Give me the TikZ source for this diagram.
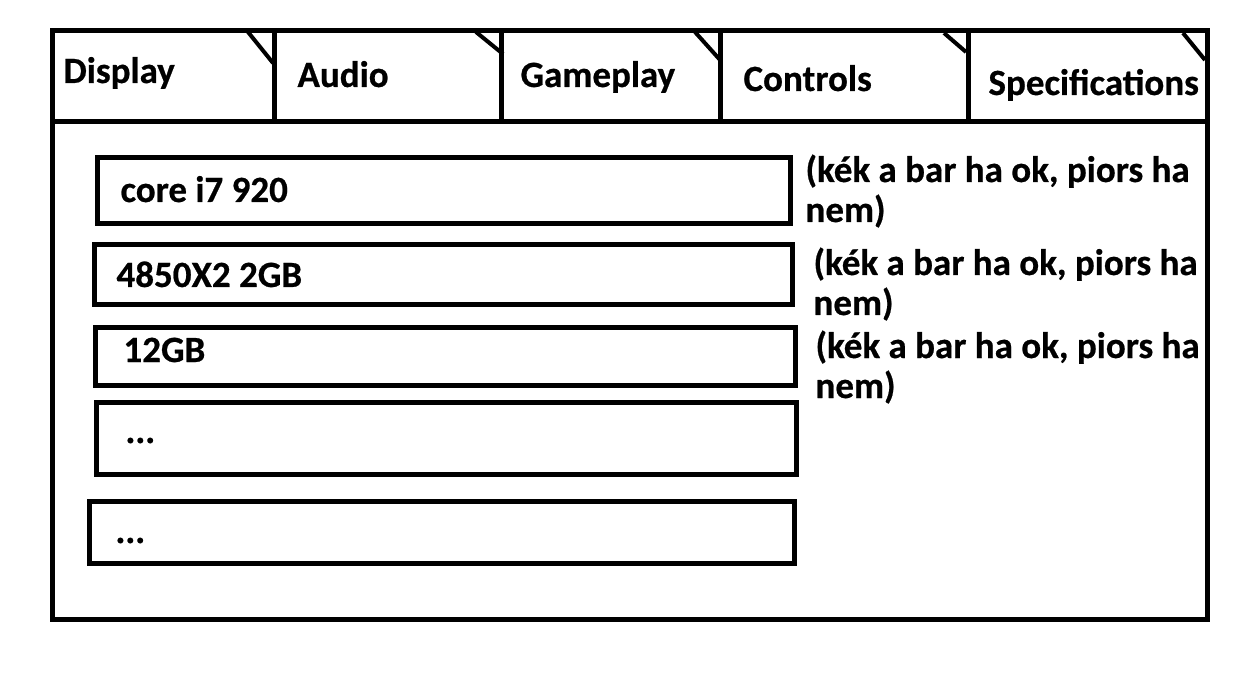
\documentclass[tikz,border=0pt]{standalone}
\usepackage{fontspec}
\setmainfont{Carlito}[BoldFeatures={FakeBold=0.6}]
\newcommand\bacham{...}
\begin{document}
\begin{tikzpicture}[x=1pt,y=-1pt,line width=5pt,line join=miter,
	font=\fontsize{37}{44}\selectfont\bfseries,
	nhan/.style={anchor=base west,inner sep=0pt},
	goc/.style={line width=4pt}]
	\useasboundingbox (0,0) rectangle (1257,700);
	\coordinate (A) at (52.5,30.5);
	\coordinate (B) at (1207.5,30.5);
	\coordinate (C) at (1207.5,619.5);
	\coordinate (D) at (52.5,619.5);
	% Khung ngoài
	\draw (A) -- (B) -- (C) -- (D) -- cycle;
	% Hàng thẻ
	\draw (52.5,121.5) -- (1207.5,121.5);
	\foreach \x in {274,501.5,720,968.5} {
		\draw (\x,30.5) -- (\x,121.5);
	}
	% Góc gấp của thẻ
	\draw[goc] (248,32) -- (273,63);
	\draw[goc] (476,32) -- (503,54);
	\draw[goc] (695,32) -- (721,61);
	\draw[goc] (944,33) -- (966,52);
	\draw[goc] (1183,33) -- (1205,60);
	% Tên thẻ
	\node[nhan] (display) at (61,83) {Display};
	\node[nhan] (audio) at (295,87) {Audio};
	\node[nhan] (gameplay) at (518,87) {Gameplay};
	\node[nhan] (controls) at (741,91) {Controls};
	\node[nhan] (specs) at (986,95) {Specifications};
	% Các thanh
	\foreach \i/\xa/\ya/\xb/\yb/\tx/\ty/\txt in {
		1/97.5/157.5/790.5/223.5/118/202/core i7 920,
		2/94.5/244.5/792.5/304.5/114/287/4850X2 2GB,
		3/95.5/327.5/795.5/385.5/121/362/12GB,
		4/96.5/402.5/796.5/474.5/123/443/\bacham,
		5/89.5/501.5/794.5/563.5/113/543/\bacham} {
		\draw (\xa,\ya) rectangle (\xb,\yb);
		\node[nhan] (thanh\i) at (\tx,\ty) {\txt};
	}
	% Ghi chú
	\foreach \i/\x/\y in {1/803/182,2/811/275,3/813/358} {
		\node[nhan,fill=white,inner ysep=9pt] (ghichu\i) at (\x,\y) {(kék a bar ha ok, piors ha};
		\node[nhan] (nem\i) at (\x,\y+40) {nem)};
	}
\end{tikzpicture}
\end{document}
